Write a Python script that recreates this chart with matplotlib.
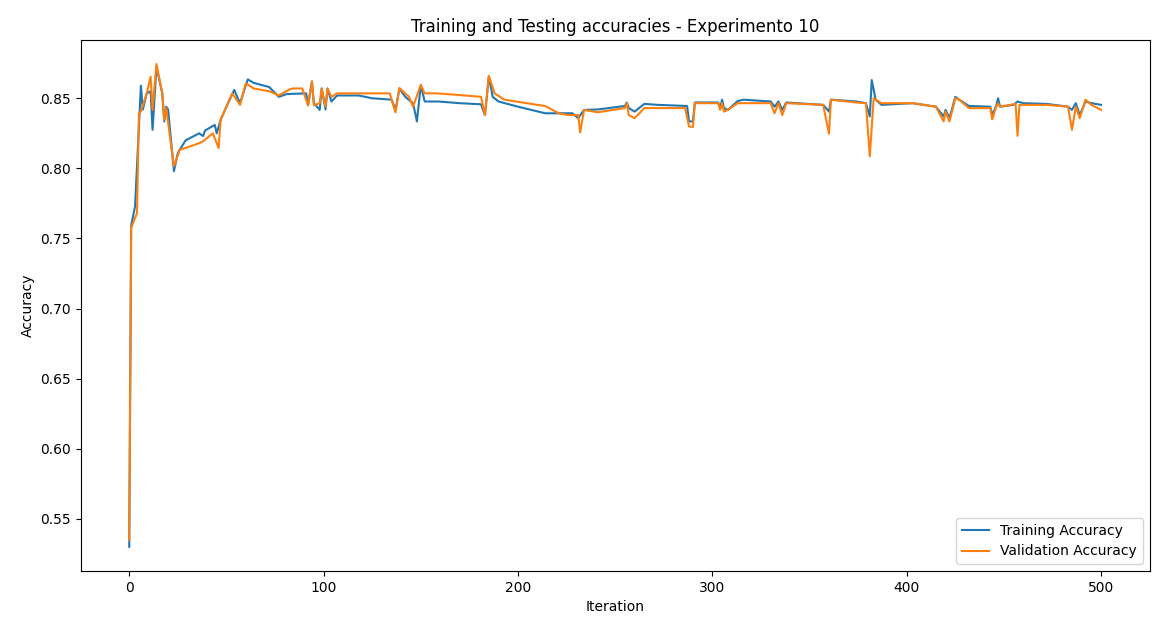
import matplotlib
matplotlib.use("Agg")
import matplotlib.pyplot as plt

# values (iteration, accuracy)
train_iter = [0, 1, 3, 6, 7, 9, 11, 12, 14, 17, 18, 19, 20, 23, 25, 29, 36, 38, 39, 44,
              45, 47, 50, 54, 57, 61, 64, 72, 77, 81, 91, 92, 94, 95, 98, 99, 101, 102, 104, 107,
              118, 125, 135, 137, 139, 142, 146, 148, 150, 152, 159, 170, 181, 183, 185, 187, 190, 200, 214, 228,
              231, 234, 241, 255, 256, 257, 260, 265, 272, 287, 288, 290, 291, 303, 304, 305, 306, 308, 313, 316,
              330, 332, 334, 336, 338, 357, 360, 361, 374, 379, 381, 382, 384, 387, 403, 415, 419, 420, 422, 425,
              427, 432, 443, 444, 446, 447, 448, 455, 457, 460, 472, 483, 485, 487, 489, 492, 495, 500]
train_acc = [0.530, 0.759, 0.773, 0.859, 0.842, 0.8535, 0.855, 0.8275, 0.8725, 0.8535, 0.8335, 0.844, 0.842, 0.798, 0.811, 0.820, 0.825, 0.823, 0.827, 0.831,
             0.825, 0.8345, 0.844, 0.856, 0.8465, 0.8635, 0.861, 0.858, 0.851, 0.853, 0.8535, 0.845, 0.862, 0.8465, 0.8417, 0.857, 0.842, 0.857, 0.8477, 0.852,
             0.852, 0.850, 0.849, 0.8417, 0.857, 0.851, 0.8465, 0.8335, 0.8595, 0.8477, 0.8477, 0.8465, 0.8457, 0.838, 0.8654, 0.851, 0.8477, 0.844, 0.8393, 0.8393,
             0.8358, 0.8417, 0.842, 0.8445, 0.847, 0.843, 0.8405, 0.846, 0.8453, 0.8445, 0.8335, 0.8335, 0.847, 0.847, 0.843, 0.849, 0.843, 0.8417, 0.848, 0.849,
             0.8477, 0.844, 0.8477, 0.8417, 0.847, 0.8453, 0.8405, 0.849, 0.8477, 0.8465, 0.837, 0.863, 0.849, 0.8453, 0.8465, 0.844, 0.837, 0.8417, 0.8358, 0.851,
             0.849, 0.8445, 0.844, 0.838, 0.8445, 0.850, 0.844, 0.8453, 0.8477, 0.8465, 0.846, 0.844, 0.8417, 0.8465, 0.838, 0.8477, 0.8465, 0.8453]

val_iter = [0, 1, 4, 5, 6, 9, 11, 12, 14, 17, 18, 19, 23, 26, 29, 36, 38, 43, 46, 47,
            53, 57, 60, 64, 72, 77, 82, 84, 89, 92, 94, 95, 98, 99, 101, 102, 104, 107, 134, 137,
            139, 141, 144, 146, 150, 152, 158, 170, 181, 183, 185, 188, 193, 210, 214, 221, 226, 229, 231, 232,
            234, 241, 255, 256, 257, 260, 265, 286, 288, 290, 291, 303, 304, 305, 306, 308, 313, 330, 332, 334,
            336, 338, 357, 360, 361, 374, 379, 381, 383, 387, 403, 415, 419, 420, 422, 425, 427, 432, 443, 444,
            446, 447, 448, 456, 457, 458, 472, 483, 485, 487, 489, 492, 495, 500]
val_acc = [0.535, 0.7577, 0.768, 0.8393, 0.8405, 0.8535, 0.8654, 0.8417, 0.8744, 0.8535, 0.8346, 0.843, 0.8015, 0.8133, 0.8145, 0.818, 0.8193, 0.825, 0.8145, 0.8346,
           0.8535, 0.8453, 0.8607, 0.857, 0.855, 0.852, 0.856, 0.857, 0.857, 0.845, 0.862, 0.845, 0.8465, 0.857, 0.844, 0.857, 0.851, 0.8535, 0.8535, 0.840,
           0.8573, 0.8547, 0.851, 0.844, 0.8595, 0.8535, 0.8535, 0.8523, 0.851, 0.838, 0.866, 0.8535, 0.849, 0.8453, 0.8445, 0.8393, 0.838, 0.838, 0.838, 0.8256,
           0.8417, 0.840, 0.843, 0.8465, 0.838, 0.8358, 0.843, 0.843, 0.830, 0.8295, 0.8465, 0.8465, 0.8417, 0.8465, 0.8405, 0.8417, 0.8465, 0.8465, 0.8393, 0.8465,
           0.838, 0.8465, 0.8453, 0.8247, 0.849, 0.847, 0.8465, 0.8086, 0.850, 0.8465, 0.8465, 0.844, 0.8335, 0.8405, 0.8335, 0.850, 0.849, 0.843, 0.843, 0.835,
           0.844, 0.8465, 0.844, 0.846, 0.8232, 0.8453, 0.8453, 0.844, 0.8275, 0.844, 0.8358, 0.849, 0.8453, 0.8417]

fig = plt.figure(figsize=(11.52, 6.24), dpi=100)
ax = fig.add_subplot(111)
fig.subplots_adjust(left=0.070, right=0.998, top=0.936, bottom=0.085)

ax.plot(train_iter, train_acc, label='Training Accuracy')
ax.plot(val_iter, val_acc, label='Validation Accuracy')
ax.set_title('Training and Testing accuracies - Experimento 10')
ax.set_xlabel('Iteration')
ax.set_ylabel('Accuracy')
ax.legend(loc='lower right')

fig.savefig('out.png', dpi=100)
